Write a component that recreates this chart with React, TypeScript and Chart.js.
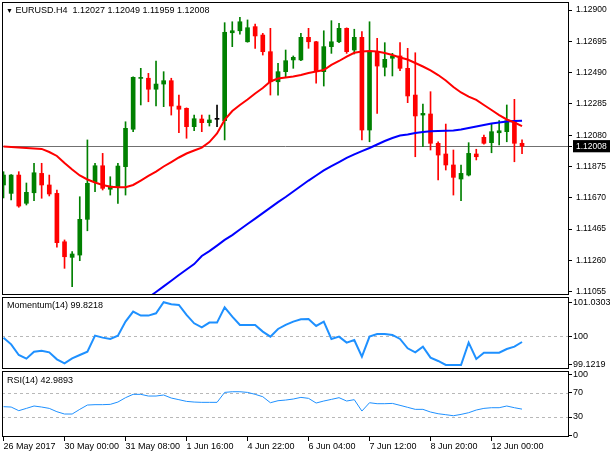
import React, { useEffect, useRef } from "react";
import { Chart, registerables } from "chart.js";

Chart.register(...registerables);

const FONT = "'Liberation Sans', Arial, sans-serif";

// ---- data (H4 EURUSD, bar index 0..68) ----
const OPEN = [
  1.11754, 1.11699, 1.11819, 1.11634, 1.11703, 1.11830, 1.11754, 1.11699, 1.11382, 1.11280,
  1.11295, 1.11529, 1.11775, 1.11880, 1.11726, 1.11743, 1.11874, 1.12119, 1.12452, 1.12453,
  1.12381, 1.12415, 1.12437, 1.12271, 1.12256, 1.12136, 1.12186, 1.12162, 1.12184, 1.12175,
  1.12751, 1.12764, 1.12692, 1.12791, 1.12736, 1.12627, 1.12430, 1.12496, 1.12573, 1.12573,
  1.12721, 1.12692, 1.12496, 1.12660, 1.12692, 1.12780, 1.12638, 1.12721, 1.12114, 1.12627,
  1.12525, 1.12584, 1.12599, 1.12518, 1.12343, 1.12212, 1.12219, 1.12027, 1.11957, 1.11885,
  1.11793, 1.11819, 1.11957, 1.12066, 1.12031, 1.12096, 1.12103, 1.12175, 1.12027,
];
const HIGH = [
  1.11841, 1.11822, 1.11841, 1.11767, 1.11896, 1.11896, 1.11819, 1.11721, 1.11394, 1.11317,
  1.11677, 1.12049, 1.11896, 1.11961, 1.11808, 1.11896, 1.12168, 1.12462, 1.12518, 1.12485,
  1.12566, 1.12496, 1.12453, 1.12343, 1.12259, 1.12212, 1.12212, 1.12212, 1.12278, 1.12817,
  1.12823, 1.12852, 1.12835, 1.12808, 1.12747, 1.12780, 1.12551, 1.12638, 1.12599, 1.12747,
  1.12780, 1.12695, 1.12764, 1.12830, 1.12813, 1.12783, 1.12774, 1.12758, 1.12823, 1.12715,
  1.12686, 1.12616, 1.12686, 1.12649, 1.12620, 1.12284, 1.12365, 1.12037, 1.12153, 1.11983,
  1.11885, 1.12031, 1.11988, 1.12081, 1.12153, 1.12175, 1.12278, 1.12315, 1.12049,
];
const LOW = [
  1.11669, 1.11656, 1.11608, 1.11623, 1.11651, 1.11667, 1.11682, 1.11346, 1.11208, 1.11088,
  1.11258, 1.11454, 1.11710, 1.11721, 1.11688, 1.11634, 1.11688, 1.12103, 1.12278, 1.12299,
  1.12271, 1.12267, 1.12212, 1.12096, 1.12060, 1.12109, 1.12103, 1.12140, 1.12136, 1.12049,
  1.12660, 1.12741, 1.12689, 1.12649, 1.12605, 1.12343, 1.12343, 1.12459, 1.12518, 1.12568,
  1.12649, 1.12420, 1.12402, 1.12616, 1.12686, 1.12616, 1.12612, 1.12049, 1.12037, 1.12223,
  1.12468, 1.12468, 1.12502, 1.12293, 1.11939, 1.12005, 1.11983, 1.11787, 1.11852, 1.11688,
  1.11651, 1.11813, 1.11918, 1.12022, 1.11965, 1.12016, 1.12037, 1.11906, 1.11959,
];
const CLOSE = [
  1.11819, 1.11819, 1.11616, 1.11706, 1.11834, 1.11754, 1.11695, 1.11376, 1.11284, 1.11302,
  1.11529, 1.11765, 1.11880, 1.11732, 1.11747, 1.11878, 1.12125, 1.12459, 1.12456, 1.12381,
  1.12415, 1.12437, 1.12271, 1.12250, 1.12136, 1.12188, 1.12162, 1.12180, 1.12184, 1.12754,
  1.12764, 1.12823, 1.12784, 1.12730, 1.12627, 1.12430, 1.12496, 1.12568, 1.12590, 1.12721,
  1.12692, 1.12496, 1.12660, 1.12692, 1.12780, 1.12627, 1.12721, 1.12114, 1.12627, 1.12533,
  1.12577, 1.12599, 1.12518, 1.12337, 1.12206, 1.12223, 1.12027, 1.11950, 1.11885, 1.11804,
  1.11830, 1.11961, 1.11939, 1.12027, 1.12103, 1.12109, 1.12175, 1.12027, 1.12008,
];
const MA_RED = [
  1.12006, 1.12003, 1.11999, 1.11996, 1.11993, 1.11990, 1.11970, 1.11944, 1.11898, 1.11855,
  1.11816, 1.11790, 1.11770, 1.11754, 1.11743, 1.11739, 1.11739, 1.11754, 1.11783, 1.11813,
  1.11842, 1.11875, 1.11904, 1.11934, 1.11960, 1.11980, 1.11999, 1.12035, 1.12091, 1.12180,
  1.12238, 1.12278, 1.12314, 1.12353, 1.12389, 1.12432, 1.12451, 1.12458, 1.12464, 1.12474,
  1.12487, 1.12497, 1.12507, 1.12540, 1.12566, 1.12595, 1.12620, 1.12628, 1.12631, 1.12628,
  1.12618, 1.12605, 1.12589, 1.12576, 1.12553, 1.12530, 1.12504, 1.12474, 1.12438, 1.12396,
  1.12360, 1.12333, 1.12311, 1.12278, 1.12245, 1.12212, 1.12183, 1.12163, 1.12140,
];
const MA_BLUE = [
  null, null, null, null, null, null, null, null, null, null,
  null, null, null, null, null, null, null, null, null, 1.11017,
  1.11053, 1.11090, 1.11127, 1.11164, 1.11200, 1.11236, 1.11289, 1.11321, 1.11357, 1.11394,
  1.11426, 1.11462, 1.11498, 1.11534, 1.11570, 1.11606, 1.11642, 1.11675, 1.11711, 1.11747,
  1.11783, 1.11816, 1.11849, 1.11878, 1.11904, 1.11931, 1.11954, 1.11976, 1.11996, 1.12019,
  1.12042, 1.12062, 1.12078, 1.12085, 1.12094, 1.12101, 1.12106, 1.12107, 1.12109, 1.12111,
  1.12117, 1.12127, 1.12137, 1.12147, 1.12157, 1.12163, 1.12170, 1.12173, 1.12175,
];
const MOMENTUM = [
  99.954, 99.751, 99.427, 99.315, 99.528, 99.558, 99.508, 99.295, 99.173, 99.325,
  99.427, 99.528, 100.015, 99.954, 99.913, 100.015, 100.441, 100.745, 100.624, 100.624,
  100.695, 101.0303, 100.968, 100.948, 100.644, 100.390, 100.269, 100.411, 100.411, 100.877,
  100.593, 100.340, 100.340, 100.340, 100.137, 99.984, 100.218, 100.340, 100.441, 100.512,
  100.522, 100.309, 100.441, 99.913, 99.984, 99.802, 99.883, 99.376, 99.984, 100.066,
  100.066, 100.035, 99.913, 99.629, 99.508, 99.680, 99.345, 99.244, 99.1219, 99.1219,
  99.1219, 99.802, 99.305, 99.498, 99.498, 99.498, 99.609, 99.680, 99.8218,
];
const RSI = [
  47.0, 46.4, 40.4, 44.2, 48.1, 46.4, 44.2, 38.7, 34.9, 34.9,
  42.6, 49.7, 50.3, 50.3, 50.8, 54.6, 61.8, 67.3, 67.3, 64.5,
  64.5, 66.2, 61.2, 58.5, 55.7, 54.6, 54.1, 54.1, 54.1, 70.5,
  71.6, 71.6, 70.5, 67.3, 63.4, 53.5, 56.8, 57.9, 59.6, 62.3,
  60.7, 53.0, 56.3, 59.0, 61.8, 56.3, 58.5, 39.8, 53.5, 51.9,
  51.9, 52.4, 49.2, 45.9, 42.6, 42.6, 38.2, 35.4, 33.8, 32.1,
  34.3, 37.1, 41.5, 44.2, 45.3, 45.3, 48.1, 45.3, 42.9893,
];

const PRICE_TICKS = [1.11055, 1.1126, 1.11465, 1.1167, 1.11875, 1.1208, 1.12285, 1.1249, 1.12695, 1.129];
const MOM_TICKS = [99.1219, 100, 101.0303];
const RSI_TICKS = [0, 30, 70, 100];
const MOM_LEVELS = [100];
const RSI_LEVELS = [30, 70];
const DATE_TICK_INDEX = [0, 8, 16, 24, 32, 40, 48, 56, 64];
const DATE_LABELS = [
  "26 May 2017", "30 May 00:00", "31 May 08:00", "1 Jun 16:00", "4 Jun 22:00",
  "6 Jun 04:00", "7 Jun 12:00", "8 Jun 20:00", "12 Jun 00:00",
];

const LAST = CLOSE[CLOSE.length - 1];
const N = CLOSE.length - 1;

// ---- styling ----
const X_MIN = -0.2;
const X_MAX = 74.16;
const AXIS_W = 41;
const GREEN = "#008000";
const RED = "#ff0000";
const BLUE = "#0000ff";
const DODGER = "#1e90ff";

const candleColors = OPEN.map((o, i) => (CLOSE[i] > o ? GREEN : CLOSE[i] < o ? RED : "#000000"));

const panelPlugin = {
  id: "panel",
  beforeDatasetsDraw(chart: any, _args: any, opts: any) {
    const { ctx, chartArea: a } = chart;
    const y = chart.scales.y;
    (opts.levels || []).forEach((l: any) => {
      const py = Math.round(y.getPixelForValue(l.value)) + 0.5;
      ctx.save();
      ctx.strokeStyle = l.color;
      ctx.lineWidth = 1;
      ctx.setLineDash(l.dash || []);
      ctx.beginPath();
      ctx.moveTo(a.left, py);
      ctx.lineTo(a.right, py);
      ctx.stroke();
      ctx.restore();
    });
  },
  afterDraw(chart: any) {
    const { ctx, chartArea: a } = chart;
    ctx.save();
    ctx.strokeStyle = "#000";
    ctx.lineWidth = 1;
    ctx.strokeRect(a.left + 0.5, a.top + 0.5, a.right - a.left - 1, a.bottom - a.top - 1);
    ctx.restore();
  },
};

function xScale(show: boolean) {
  return {
    type: "linear",
    min: X_MIN,
    max: X_MAX,
    offset: false,
    display: show,
    afterBuildTicks: (s: any) => {
      s.ticks = DATE_TICK_INDEX.map((v) => ({ value: v }));
    },
    afterFit: (s: any) => {
      s.height = show ? 20 : 0;
      s.paddingLeft = 0;
      s.paddingRight = 0;
    },
    grid: { offset: false, drawOnChartArea: false, drawTicks: true, tickLength: 4, color: "#000", tickColor: "#000" },
    border: { display: false },
    ticks: {
      autoSkip: false,
      maxRotation: 0,
      minRotation: 0,
      align: "start",
      padding: 0,
      color: "#000",
      font: { family: FONT, size: 9 },
      callback: (v: any) => {
        const k = DATE_TICK_INDEX.indexOf(v);
        return k >= 0 ? DATE_LABELS[k] : "";
      },
    },
  };
}

function yScale(min: number, max: number, ticks: number[], fmt: (v: number) => string, pad: number, size: number, extra: any = {}) {
  return {
    type: "linear",
    position: "right",
    min,
    max,
    afterBuildTicks: (s: any) => {
      s.ticks = ticks.map((v) => ({ value: v }));
    },
    afterFit: (s: any) => {
      s.width = AXIS_W;
      s.paddingTop = 0;
      s.paddingBottom = 0;
    },
    grid: { drawOnChartArea: false, drawTicks: true, tickLength: 3, color: "#000", tickColor: "#000" },
    border: { display: false },
    ticks: {
      autoSkip: false,
      padding: pad,
      color: "#000",
      font: { family: FONT, size },
      callback: (v: any) => fmt(Number(v)),
      ...extra,
    },
  };
}

const baseOptions = (levels: any[]) => ({
  responsive: false,
  animation: false,
  events: [],
  plugins: { legend: { display: false }, tooltip: { enabled: false }, panel: { levels } },
});

const pts = (arr: (number | null)[]) => arr.map((v, i) => ({ x: i, y: v }));

function mainConfig(): any {
  const priceTicks = [...PRICE_TICKS, LAST].sort((a, b) => a - b);
  return {
    type: "bar",
    data: {
      datasets: [
        { type: "line", label: "MA fast", data: pts(MA_RED), borderColor: RED, borderWidth: 2, pointRadius: 0, order: 1 },
        { type: "line", label: "MA slow", data: pts(MA_BLUE), borderColor: BLUE, borderWidth: 2, pointRadius: 0, order: 2 },
        {
          type: "bar",
          label: "body",
          data: OPEN.map((o, i) => ({ x: i, y: [o, CLOSE[i]] })),
          backgroundColor: candleColors,
          barThickness: 4,
          minBarLength: 1,
          grouped: false,
          order: 3,
        },
        {
          type: "bar",
          label: "wick",
          data: LOW.map((l, i) => ({ x: i, y: [l, HIGH[i]] })),
          backgroundColor: candleColors,
          barThickness: 1,
          grouped: false,
          order: 4,
        },
      ],
    },
    options: {
      ...baseOptions([{ value: LAST, color: "#707070" }]),
      layout: { padding: { left: 2, top: 2, bottom: 2, right: 0 } },
      scales: {
        x: xScale(false),
        y: yScale(1.110334, 1.129524, priceTicks, (v) => v.toFixed(5), 4, 8.5, {
          showLabelBackdrop: true,
          backdropColor: (c: any) => (c.tick && c.tick.value === LAST ? "#000" : "rgba(0,0,0,0)"),
          backdropPadding: { top: 1, bottom: 1, left: 3, right: 6 },
          color: (c: any) => (c.tick && c.tick.value === LAST ? "#fff" : "#000"),
        }),
      },
    },
    plugins: [panelPlugin],
  };
}

function momConfig(): any {
  return {
    type: "line",
    data: {
      datasets: [{ label: "Momentum(14)", data: pts(MOMENTUM), borderColor: DODGER, borderWidth: 2, pointRadius: 0 }],
    },
    options: {
      ...baseOptions(MOM_LEVELS.map((v) => ({ value: v, color: "#b8b8b8", dash: [3, 3] }))),
      layout: { padding: { left: 2, top: 1, bottom: 2, right: 0 } },
      scales: {
        x: xScale(false),
        y: yScale(99.0, 101.19, MOM_TICKS, (v) => String(v), 1, 9),
      },
    },
    plugins: [panelPlugin],
  };
}

function rsiConfig(): any {
  return {
    type: "line",
    data: {
      datasets: [{ label: "RSI(14)", data: pts(RSI), borderColor: DODGER, borderWidth: 1, pointRadius: 0 }],
    },
    options: {
      ...baseOptions(RSI_LEVELS.map((v) => ({ value: v, color: "#b8b8b8", dash: [3, 3] }))),
      layout: { padding: { left: 2, top: 1, bottom: 0, right: 0 } },
      scales: {
        x: xScale(true),
        y: yScale(-2.9, 105.7, RSI_TICKS, (v) => String(v), 1, 9),
      },
    },
    plugins: [panelPlugin],
  };
}

const TITLE = `EURUSD.H4  ${OPEN[N].toFixed(5)} ${HIGH[N].toFixed(5)} ${LOW[N].toFixed(5)} ${CLOSE[N].toFixed(5)}`;
const MOM_TITLE = `Momentum(14) ${MOMENTUM[N].toFixed(4)}`;
const RSI_TITLE = `RSI(14) ${RSI[N].toFixed(4)}`;

const labelStyle: React.CSSProperties = {
  position: "absolute",
  left: 7,
  font: `9px ${FONT}`,
  lineHeight: "11px",
  whiteSpace: "pre",
  color: "#000",
};

export default function App() {
  const mainRef = useRef<HTMLCanvasElement>(null);
  const momRef = useRef<HTMLCanvasElement>(null);
  const rsiRef = useRef<HTMLCanvasElement>(null);

  useEffect(() => {
    const charts: Chart[] = [];
    if (mainRef.current) charts.push(new Chart(mainRef.current, mainConfig()));
    if (momRef.current) charts.push(new Chart(momRef.current, momConfig()));
    if (rsiRef.current) charts.push(new Chart(rsiRef.current, rsiConfig()));
    return () => charts.forEach((c) => c.destroy());
  }, []);

  return (
    <div style={{ position: "absolute", left: 0, top: 0, width: 610, height: 457, background: "#fff", overflow: "hidden" }}>
      <canvas ref={mainRef} width={610} height={297} style={{ position: "absolute", left: 0, top: 0 }} />
      <canvas ref={momRef} width={610} height={75} style={{ position: "absolute", left: 0, top: 296 }} />
      <canvas ref={rsiRef} width={610} height={87} style={{ position: "absolute", left: 0, top: 370 }} />
      <div style={{ ...labelStyle, left: 6, top: 4.5 }}>
        <span style={{ fontSize: 7 }}>▼</span> {TITLE}
      </div>
      <div style={{ ...labelStyle, top: 300 }}>{MOM_TITLE}</div>
      <div style={{ ...labelStyle, top: 374.5 }}>{RSI_TITLE}</div>
    </div>
  );
}
